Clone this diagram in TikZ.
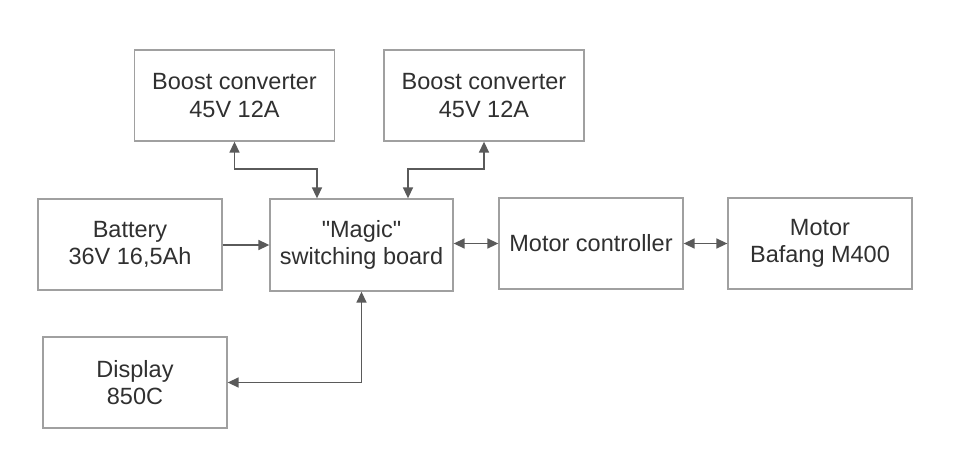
\documentclass[tikz,border=0pt]{standalone}
\usepackage{fontspec}
\setmainfont{Liberation Sans}
\newfontfamily\plainsans{Liberation Sans}[Ligatures=ResetAll]
\usetikzlibrary{arrows.meta}
\definecolor{boxgray}{HTML}{A0A0A0}
\definecolor{linegray}{HTML}{5A5A5A}
\definecolor{txt}{HTML}{303030}
\begin{document}
\begin{tikzpicture}[x=1pt,y=-1pt,
  blk/.style={draw=boxgray,line width=1.3pt,rectangle,minimum width=184pt,minimum height=91pt,
    align=center,text=txt,font=\plainsans\fontsize{23.5pt}{27.5pt}\selectfont,inner sep=0pt},
  wideblk/.style={blk,minimum width=200pt},
  conn/.style={draw=linegray,line width=1.5pt}
]
\useasboundingbox[fill=white] (0,0) rectangle (959,464);
\node[wideblk] (b1) at (234.5,95.5) {Boost converter\\45V 12A};
\node[wideblk] (b2) at (484,95.5) {Boost converter\\45V 12A};
\node[blk] (bat) at (130,244.5) {Battery\\36V 16,5Ah};
\node[blk,minimum width=183pt,minimum height=92pt] (mag) at (361.5,245) {"Magic"\\switching board};
\node[blk] (mc) at (591,243.5) {Motor controller};
\node[blk] (mot) at (820,243.5) {Motor\\Bafang M400};
\node[blk] (disp) at (135,382.5) {Display\\850C};
\coordinate (j1) at (0,169);
\draw[conn,{Triangle[length=11pt,width=10pt]}-{Triangle[length=11pt,width=10pt]}]
  (b1.south) -- (b1.south |- j1) -| ([xshift=-44.5pt]mag.north);
\draw[conn,{Triangle[length=11pt,width=10pt]}-{Triangle[length=11pt,width=10pt]}]
  (b2.south) -- (b2.south |- j1) -| ([xshift=46.5pt]mag.north);
\draw[conn,-{Triangle[length=11pt,width=10pt]}]
  ([yshift=-0.5pt]bat.east) -- ([yshift=-0.5pt]bat.east -| mag.west);
\draw[conn,{Triangle[length=11pt,width=10pt]}-{Triangle[length=11pt,width=10pt]}]
  (mag.east |- mc.east) -- (mc.east -| mc.west);
\draw[conn,{Triangle[length=11pt,width=10pt]}-{Triangle[length=11pt,width=10pt]}]
  (mc.east) -- (mot.west);
\draw[conn,{Triangle[length=11pt,width=10pt]}-{Triangle[length=11pt,width=10pt]}]
  (mag.south) |- (disp.east);
\end{tikzpicture}
\end{document}
